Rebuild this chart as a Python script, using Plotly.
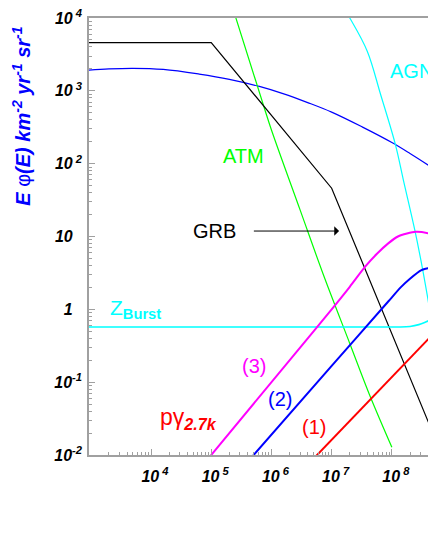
import plotly.graph_objects as go

# ---------------- data (E in GeV, flux = E*phi(E) km^-2 yr^-1 sr^-1) ----------------
grb_E = [8.0e2, 1.0e5, 1.0e7, 8.0e8]
grb_F = [4.6e3, 4.6e3, 46, 7.2e-3]

td_E = [8e2, 2e3, 5e3, 1.6e4, 6.3e4, 2e5, 6.3e5, 1.6e6, 4e6, 1e7, 3.2e7, 1e8, 2e8, 5e8]
td_F = [1900, 2000, 2040, 1970, 1700, 1440, 1150, 910, 690, 510, 320, 195, 138, 85]

agn_E = [1.4e7, 2.0e7, 3.9e7, 6.5e7, 1.15e8, 1.55e8, 2.4e8, 3.1e8, 3.9e8, 5.0e8]
agn_F = [1.6e4, 1.0e4, 3.5e3, 890, 180, 60, 12.3, 4.3, 1.5, 0.44]

atm_E = [2.2e5, 7.5e5, 1.0e6, 3.0e6, 7.5e6, 2.0e7, 4.2e7, 1.0e8]
atm_F = [1.5e4, 605, 290, 23, 2.8, 0.34, 0.069, 0.0128]

zb_E = [8e2, 1.4e8, 2e8, 2.8e8, 3.5e8, 4.2e8, 5e8]
zb_F = [0.571, 0.571, 0.582, 0.617, 0.66, 0.708, 0.794]

p3_E = [7.9e4, 3.16e6, 1e7, 2e7, 3.6e7, 5.6e7, 8.7e7, 1.26e8, 1.78e8, 2.5e8, 4e8, 5e8]
p3_F = [7.9e-3, 0.316, 1.0, 2.04, 3.85, 5.75, 8.05, 10, 11, 11.6, 11.1, 10.5]

p2_E = [4.0e5, 1.0e7, 8.7e7, 1.4e8, 2.0e8, 3.1e8, 4.0e8, 5.0e8]
p2_F = [8.0e-3, 0.167, 1.28, 2.0, 2.63, 3.45, 3.67, 3.8]

p1_E = [5.0e6, 5.0e8]
p1_F = [8.9e-3, 0.47]

y_tickvals = [1e-2, 1e-1, 1, 10, 1e2, 1e3, 1e4]
y_ticktext = ["10<sup>-2</sup>", "10<sup>-1</sup>", "1<sup>\u00a0\u2007</sup>",
              "10<sup>\u00a0\u2007</sup>", "10<sup>\u00a02</sup>",
              "10<sup>\u00a03</sup>", "10<sup>\u00a04</sup>"]
x_tickvals = [1e4, 1e5, 1e6, 1e7, 1e8]
x_ticktext = ["10<sup>\u00a04</sup>", "10<sup>\u00a05</sup>", "10<sup>\u00a06</sup>",
              "10<sup>\u00a07</sup>", "10<sup>\u00a08</sup>"]

BLUE = "#0000ff"
CYAN = "#00ffff"
MAG = "#ff00ff"
GREEN = "#00ff00"
RED = "#ff0000"
GRAY = "#a0a0a0"
FONT = "Liberation Sans, Arial, sans-serif"

fig = go.Figure()

def add(x, y, color, width, shape="spline", smoothing=1.0):
    line = dict(color=color, width=width, shape=shape)
    if shape == "spline":
        line["smoothing"] = smoothing
    fig.add_trace(go.Scatter(x=x, y=y, mode="lines", line=line,
                             hoverinfo="skip", showlegend=False))

add(td_E, td_F, BLUE, 1.2)
add(agn_E, agn_F, CYAN, 1.2)
add(atm_E, atm_F, GREEN, 1.2)
add(grb_E, grb_F, "#000000", 1.2, shape="linear")
add(zb_E, zb_F, CYAN, 1.6, smoothing=0.6)
add(p3_E, p3_F, MAG, 2, smoothing=0.7)
add(p2_E, p2_F, BLUE, 2, smoothing=0.6)
add(p1_E, p1_F, RED, 2, shape="linear")

minor_y = [m * 10.0 ** k for k in range(-2, 4) for m in range(2, 10)]
minor_x = [m * 10.0 ** k for k in range(2, 9) for m in range(2, 10)]

tickfont = dict(family=FONT, size=16, color="#000000", weight="bold", style="italic")

fig.update_xaxes(type="log", range=[2.97, 8.6], showgrid=False, zeroline=False,
                 showline=True, linecolor=GRAY, linewidth=1.5, mirror=True,
                 ticks="inside", ticklen=6, tickcolor=GRAY, tickwidth=1,
                 tickmode="array", tickvals=x_tickvals, ticktext=x_ticktext,
                 tickfont=tickfont, ticklabelstandoff=6, ticklabelshift=4,
                 minor=dict(ticks="inside", ticklen=3, tickcolor=GRAY,
                            tickvals=minor_x, showgrid=False))
fig.update_yaxes(type="log", range=[-2, 4], showgrid=False, zeroline=False,
                 showline=True, linecolor=GRAY, linewidth=1.5, mirror=False,
                 ticks="inside", ticklen=6, tickcolor=GRAY, tickwidth=1,
                 tickmode="array", tickvals=y_tickvals, ticktext=y_ticktext,
                 tickfont=tickfont, ticklabelstandoff=2,
                 minor=dict(ticks="inside", ticklen=3, tickcolor=GRAY,
                            tickvals=minor_y, showgrid=False))

def label(x, y, text, color, size=20, xanchor="center", yanchor="middle"):
    fig.add_annotation(x=x, y=y, xref="x", yref="y", text=text, showarrow=False,
                       xanchor=xanchor, yanchor=yanchor,
                       font=dict(family=FONT, size=size, color=color))

label(7.94, 3.279, "AGN", CYAN, xanchor="left")
label(5.541, 2.105, "ATM", GREEN)
label(5.051, 1.082, "GRB", "#000000")
label(3.286, 0.0, "Z<sub><b>Burst</b></sub>", CYAN, size=21, xanchor="left")
label(4.121, -1.5, "pγ<sub><b><i>2.7k</i></b></sub>", RED, size=23, xanchor="left")
label(5.711, -0.778, "(3)", MAG)
label(6.134, -1.227, "(2)", BLUE)
label(6.708, -1.616, "(1)", RED)

fig.add_annotation(x=7.123, y=1.075, ax=5.683, ay=1.075, xref="x", yref="y",
                   axref="x", ayref="y", text="", showarrow=True,
                   arrowhead=1, arrowsize=1.6, arrowwidth=1, arrowcolor="#000000")

fig.add_annotation(x=-0.198, y=0.776, xref="paper", yref="paper", textangle=-90,
                   showarrow=False, xanchor="center", yanchor="middle",
                   text="<b><i>E </i></b><span style='font-weight:normal'>φ</span>"
                        "<b><i>(E) km<sup>-2</sup> yr<sup>-1</sup> sr<sup>-1</sup></i></b>",
                   font=dict(family=FONT, size=20, color=BLUE))

fig.update_layout(width=428, height=554, margin=dict(l=89, r=0, t=18, b=99),
                  plot_bgcolor="white", paper_bgcolor="white")

fig.write_html("out.html", config={"displayModeBar": False},
               post_script="document.body.style.margin='0';document.body.style.overflow='hidden';")
